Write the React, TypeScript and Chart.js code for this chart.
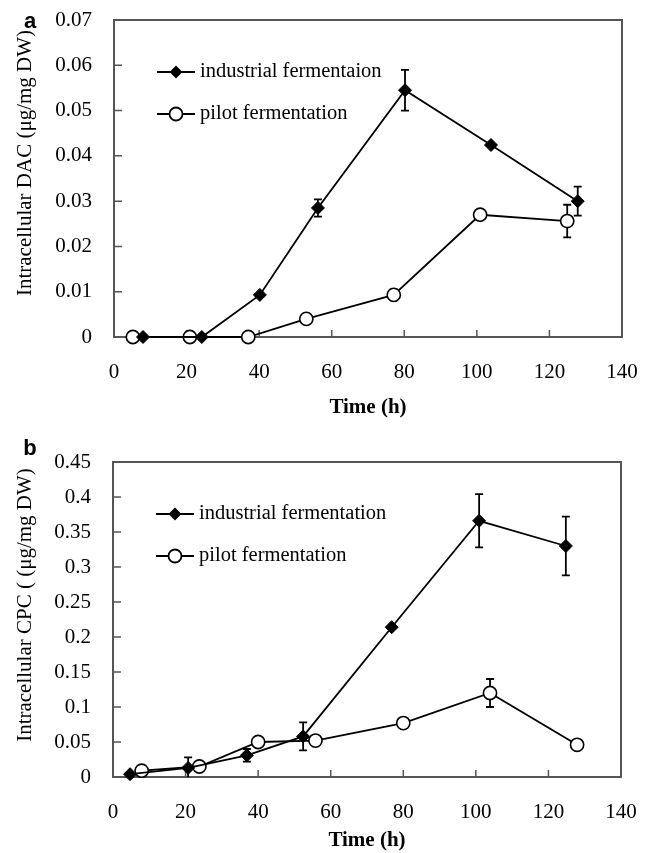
import React, { useEffect, useRef } from "react";
import { Chart, registerables } from "chart.js";
Chart.register(...registerables);

// ---- Panel a: intracellular DAC ----
const hoursIndA = [8, 24.2, 40.2, 56.2, 80.2, 103.9, 127.8];
const dacInd = [0, 0, 0.0093, 0.0285, 0.0545, 0.0424, 0.03];
const dacIndErr = [0, 0, 0, 0.0019, 0.0045, 0, 0.0032];
const hoursPilotA = [5.2, 20.9, 37, 53, 77.1, 100.9, 124.9];
const dacPilot = [0, 0, 0, 0.004, 0.0093, 0.027, 0.0256];
const dacPilotErr = [0, 0, 0, 0, 0.0012, 0, 0.0036];

// ---- Panel b: intracellular CPC ----
const hoursIndB = [4.7, 20.7, 36.9, 52.4, 76.8, 100.9, 124.8];
const cpcInd = [0.004, 0.013, 0.031, 0.058, 0.214, 0.366, 0.33];
const cpcIndErr = [0, 0.015, 0.009, 0.02, 0, 0.038, 0.042];
const hoursPilotB = [7.9, 23.8, 40, 55.8, 80, 103.9, 127.9];
const cpcPilot = [0.009, 0.015, 0.05, 0.052, 0.077, 0.12, 0.046];
const cpcPilotErr = [0, 0, 0, 0, 0, 0.02, 0];

// ---- tick labels ----
const xTickLabels = ["0", "20", "40", "60", "80", "100", "120", "140"];
const yTickLabelsA = ["0", "0.01", "0.02", "0.03", "0.04", "0.05", "0.06", "0.07"];
const yTickLabelsB = ["0", "0.05", "0.1", "0.15", "0.2", "0.25", "0.3", "0.35", "0.4", "0.45"];

const SERIF = "'Liberation Serif', 'Times New Roman', serif";
const SANS = "'Liberation Sans', Arial, sans-serif";

type PanelCfg = {
  letter: string;
  yTitle: string;
  indLabel: string;
  pilotLabel: string;
  indX: number[];
  indY: number[];
  indErr: number[];
  pilotX: number[];
  pilotY: number[];
  pilotErr: number[];
  yLabels: string[];
  width: number;
  height: number;
  padTop: number;
  padRight: number;
  yAxisWidth: number;
  xAxisHeight: number;
  letterY: number;
  yTitleCenterY: number;
};

const zeroPad = (s: any) => {
  s.paddingTop = 0;
  s.paddingBottom = 0;
  s.paddingLeft = 0;
  s.paddingRight = 0;
};

const decorPlugin = {
  id: "decor",
  beforeDatasetsDraw(chart: any) {
    const ctx = chart.ctx;
    const { left, right, top, bottom } = chart.chartArea;
    const xs = chart.scales.x;
    const ys = chart.scales.y;
    ctx.save();
    // frame
    ctx.strokeStyle = "#555";
    ctx.lineWidth = 2;
    ctx.strokeRect(left, top, right - left, bottom - top);
    // inward ticks
    ctx.lineWidth = 1.5;
    ctx.beginPath();
    xs.ticks.forEach((t: any) => {
      const px = xs.getPixelForValue(t.value);
      ctx.moveTo(px, bottom);
      ctx.lineTo(px, bottom - 7);
    });
    ys.ticks.forEach((t: any) => {
      const py = ys.getPixelForValue(t.value);
      ctx.moveTo(left, py);
      ctx.lineTo(left + 8, py);
    });
    ctx.stroke();
    // error bars (behind markers)
    ctx.strokeStyle = "#000";
    ctx.lineWidth = 1.8;
    chart.data.datasets.forEach((ds: any, di: number) => {
      const meta = chart.getDatasetMeta(di);
      const errs: number[] = ds.errors || [];
      ds.data.forEach((d: any, i: number) => {
        const e = errs[i];
        if (!e) return;
        const px = meta.data[i].x;
        const y1 = Math.min(bottom, ys.getPixelForValue(d.y - e));
        const y2 = Math.max(top, ys.getPixelForValue(d.y + e));
        ctx.beginPath();
        ctx.moveTo(px, y1);
        ctx.lineTo(px, y2);
        ctx.moveTo(px - 4, y2);
        ctx.lineTo(px + 4, y2);
        if (y1 < bottom) {
          ctx.moveTo(px - 4, y1);
          ctx.lineTo(px + 4, y1);
        }
        ctx.stroke();
      });
    });
    ctx.restore();
  },
  afterDraw(chart: any, _args: any, opts: any) {
    const ctx = chart.ctx;
    const { left, top } = chart.chartArea;
    ctx.save();
    // panel letter
    ctx.fillStyle = "#000";
    ctx.font = `bold 22px ${SANS}`;
    ctx.textAlign = "center";
    ctx.textBaseline = "alphabetic";
    ctx.fillText(opts.letter, 30, opts.letterY);
    // y title
    ctx.save();
    ctx.translate(25, opts.yTitleCenterY);
    ctx.rotate(-Math.PI / 2);
    ctx.font = `21px ${SERIF}`;
    ctx.textAlign = "center";
    ctx.textBaseline = "middle";
    ctx.fillText(opts.yTitle, 0, 0);
    ctx.restore();
    // legend
    const rows = [
      { label: opts.indLabel, style: "diamond", dy: 52 },
      { label: opts.pilotLabel, style: "circle", dy: 94 },
    ];
    rows.forEach((r) => {
      const y = top + r.dy;
      const x0 = left + 43;
      const x1 = x0 + 38;
      const cx = (x0 + x1) / 2;
      ctx.strokeStyle = "#000";
      ctx.lineWidth = 1.8;
      ctx.beginPath();
      ctx.moveTo(x0, y);
      ctx.lineTo(x1, y);
      ctx.stroke();
      ctx.beginPath();
      if (r.style === "diamond") {
        ctx.moveTo(cx, y - 6.5);
        ctx.lineTo(cx + 6.5, y);
        ctx.lineTo(cx, y + 6.5);
        ctx.lineTo(cx - 6.5, y);
        ctx.closePath();
        ctx.fillStyle = "#000";
        ctx.fill();
      } else {
        ctx.arc(cx, y, 6.5, 0, Math.PI * 2);
        ctx.fillStyle = "#fff";
        ctx.fill();
        ctx.stroke();
      }
      ctx.fillStyle = "#000";
      ctx.font = `20.5px ${SERIF}`;
      ctx.textAlign = "left";
      ctx.textBaseline = "middle";
      ctx.fillText(r.label, x1 + 5, y);
    });
    ctx.restore();
  },
};

function Panel({ cfg }: { cfg: PanelCfg }) {
  const ref = useRef<HTMLCanvasElement | null>(null);
  useEffect(() => {
    if (!ref.current) return;
    const chart = new Chart(ref.current, {
      type: "line",
      data: {
        datasets: [
          {
            label: cfg.indLabel,
            data: cfg.indX.map((x, i) => ({ x, y: cfg.indY[i] })),
            errors: cfg.indErr,
            borderColor: "#000",
            borderWidth: 1.8,
            pointStyle: "rectRot",
            pointRadius: 6.5,
            pointBackgroundColor: "#000",
            pointBorderColor: "#000",
            pointBorderWidth: 1,
            clip: false,
            tension: 0,
          } as any,
          {
            label: cfg.pilotLabel,
            data: cfg.pilotX.map((x, i) => ({ x, y: cfg.pilotY[i] })),
            errors: cfg.pilotErr,
            borderColor: "#000",
            borderWidth: 1.8,
            pointStyle: "circle",
            pointRadius: 6.6,
            pointBackgroundColor: "#fff",
            pointBorderColor: "#000",
            pointBorderWidth: 1.6,
            clip: false,
            tension: 0,
          } as any,
        ],
      },
      options: {
        animation: false,
        responsive: false,
        maintainAspectRatio: false,
        layout: { padding: { top: cfg.padTop, right: cfg.padRight, left: 0, bottom: 0 } },
        plugins: {
          legend: { display: false },
          tooltip: { enabled: false },
          decor: {
            letter: cfg.letter,
            letterY: cfg.letterY,
            yTitle: cfg.yTitle,
            yTitleCenterY: cfg.yTitleCenterY,
            indLabel: cfg.indLabel,
            pilotLabel: cfg.pilotLabel,
          },
        } as any,
        scales: {
          x: {
            type: "linear",
            min: 0,
            max: 140,
            grid: { display: false },
            border: { display: false },
            afterBuildTicks: (s: any) => {
              s.ticks = xTickLabels.map((l) => ({ value: parseFloat(l) }));
            },
            afterFit: (s: any) => {
              s.height = cfg.xAxisHeight;
              zeroPad(s);
            },
            ticks: {
              padding: 15,
              color: "#000",
              font: { family: SERIF, size: 21 },
              callback: (_v: any, i: number) => xTickLabels[i],
              maxRotation: 0,
            },
            title: {
              display: true,
              text: "Time (h)",
              color: "#000",
              font: { family: SERIF, size: 21, weight: "bold" },
              padding: { top: 0, bottom: 0 },
            },
          },
          y: {
            type: "linear",
            min: 0,
            max: parseFloat(cfg.yLabels[cfg.yLabels.length - 1]),
            grid: { display: false },
            border: { display: false },
            afterBuildTicks: (s: any) => {
              s.ticks = cfg.yLabels.map((l) => ({ value: parseFloat(l) }));
            },
            afterFit: (s: any) => {
              s.width = cfg.yAxisWidth;
              zeroPad(s);
            },
            ticks: {
              padding: 14,
              color: "#000",
              font: { family: SERIF, size: 21 },
              callback: (_v: any, i: number) => cfg.yLabels[i],
            },
          },
        },
      } as any,
      plugins: [decorPlugin],
    });
    return () => chart.destroy();
  }, [cfg]);
  return (
    <canvas
      ref={ref}
      width={cfg.width}
      height={cfg.height}
      style={{ display: "block", width: cfg.width, height: cfg.height }}
    />
  );
}

const panelA: PanelCfg = {
  letter: "a",
  yTitle: "Intracellular DAC (μg/mg DW)",
  indLabel: "industrial fermentaion",
  pilotLabel: "pilot fermentation",
  indX: hoursIndA,
  indY: dacInd,
  indErr: dacIndErr,
  pilotX: hoursPilotA,
  pilotY: dacPilot,
  pilotErr: dacPilotErr,
  yLabels: yTickLabelsA,
  width: 646,
  height: 420,
  padTop: 20,
  padRight: 24,
  yAxisWidth: 114,
  xAxisHeight: 83,
  letterY: 28,
  yTitleCenterY: 163,
};

const panelB: PanelCfg = {
  letter: "b",
  yTitle: "Intracellular CPC ( (μg/mg DW)",
  indLabel: "industrial fermentation",
  pilotLabel: "pilot fermentation",
  indX: hoursIndB,
  indY: cpcInd,
  indErr: cpcIndErr,
  pilotX: hoursPilotB,
  pilotY: cpcPilot,
  pilotErr: cpcPilotErr,
  yLabels: yTickLabelsB,
  width: 646,
  height: 433,
  padTop: 42,
  padRight: 25,
  yAxisWidth: 113,
  xAxisHeight: 76,
  letterY: 35,
  yTitleCenterY: 185,
};

export default function App() {
  return (
    <div style={{ position: "absolute", left: 0, top: 0, width: 646, height: 853, background: "#fff" }}>
      <Panel cfg={panelA} />
      <Panel cfg={panelB} />
    </div>
  );
}
